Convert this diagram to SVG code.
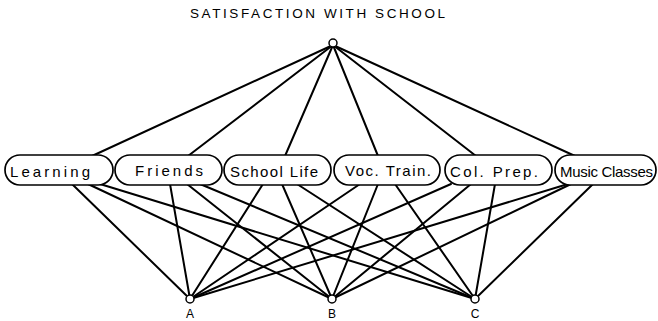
<svg xmlns="http://www.w3.org/2000/svg" width="658" height="321" viewBox="0 0 658 321">
<style>
.c{stroke:#000;stroke-width:2;fill:none;stroke-linecap:round}
.box{fill:#fff;stroke:#000;stroke-width:1.7}
.pt{fill:#fff;stroke:#000;stroke-width:1.5}
.lbl{font-family:"Liberation Sans",Arial,sans-serif;font-size:15px;fill:#000}
.t{font-family:"Liberation Sans",Arial,sans-serif;font-size:13.5px;fill:#000}
.s{font-family:"Liberation Sans",Arial,sans-serif;font-size:12px;fill:#000;text-anchor:middle}
</style>
<text class="t" x="190" y="18" textLength="255" lengthAdjust="spacing">SATISFACTION WITH SCHOOL</text>
<g id="connectors">
<line class="c" x1="333" y1="45" x2="92" y2="156"/>
<line class="c" x1="333" y1="45" x2="188" y2="156"/>
<line class="c" x1="333" y1="45" x2="285" y2="156"/>
<line class="c" x1="333" y1="45" x2="378" y2="156"/>
<line class="c" x1="333" y1="45" x2="476" y2="156"/>
<line class="c" x1="333" y1="45" x2="575" y2="156"/>
<line class="c" x1="72" y1="184" x2="190" y2="299"/>
<line class="c" x1="88" y1="184" x2="332" y2="299"/>
<line class="c" x1="100" y1="184" x2="475" y2="299"/>
<line class="c" x1="170" y1="184" x2="190" y2="299"/>
<line class="c" x1="187" y1="184" x2="332" y2="299"/>
<line class="c" x1="200" y1="184" x2="475" y2="299"/>
<line class="c" x1="263" y1="184" x2="190" y2="299"/>
<line class="c" x1="282" y1="184" x2="332" y2="299"/>
<line class="c" x1="297" y1="184" x2="475" y2="299"/>
<line class="c" x1="360" y1="184" x2="190" y2="299"/>
<line class="c" x1="378" y1="184" x2="332" y2="299"/>
<line class="c" x1="395" y1="184" x2="475" y2="299"/>
<line class="c" x1="451" y1="184" x2="190" y2="299"/>
<line class="c" x1="471" y1="184" x2="332" y2="299"/>
<line class="c" x1="495" y1="184" x2="475" y2="299"/>
<line class="c" x1="568" y1="184" x2="190" y2="299"/>
<line class="c" x1="571" y1="184" x2="332" y2="299"/>
<line class="c" x1="593" y1="184" x2="475" y2="299"/>
</g>
<g id="top"><circle class="pt" cx="333" cy="43" r="4"/></g>
<g id="learning"><rect class="box" x="5" y="155" width="108" height="30" rx="15"/><text class="lbl" x="10" y="177" textLength="80" lengthAdjust="spacing">Learning</text></g>
<g id="friends"><rect class="box" x="115" y="155" width="107" height="30" rx="15"/><text class="lbl" x="135" y="176" textLength="68" lengthAdjust="spacing">Friends</text></g>
<g id="schoollife"><rect class="box" x="224" y="155" width="107" height="30" rx="15"/><text class="lbl" x="230" y="177" textLength="88" lengthAdjust="spacing">School Life</text></g>
<g id="voctrain"><rect class="box" x="334" y="155" width="106" height="30" rx="15"/><text class="lbl" x="345" y="176" textLength="86" lengthAdjust="spacing">Voc. Train.</text></g>
<g id="colprep"><rect class="box" x="445" y="155" width="107" height="30" rx="15"/><text class="lbl" x="450" y="177" textLength="88" lengthAdjust="spacing">Col. Prep.</text></g>
<g id="music"><rect class="box" x="555" y="155" width="101" height="30" rx="15"/><text class="lbl" x="560" y="177" textLength="93" lengthAdjust="spacing">Music Classes</text></g>
<g id="A"><circle class="pt" cx="190" cy="299" r="4"/><text class="s" x="190" y="318">A</text></g>
<g id="B"><circle class="pt" cx="332" cy="299" r="4"/><text class="s" x="332" y="318">B</text></g>
<g id="C"><circle class="pt" cx="475" cy="299" r="4"/><text class="s" x="475" y="318">C</text></g>
</svg>
